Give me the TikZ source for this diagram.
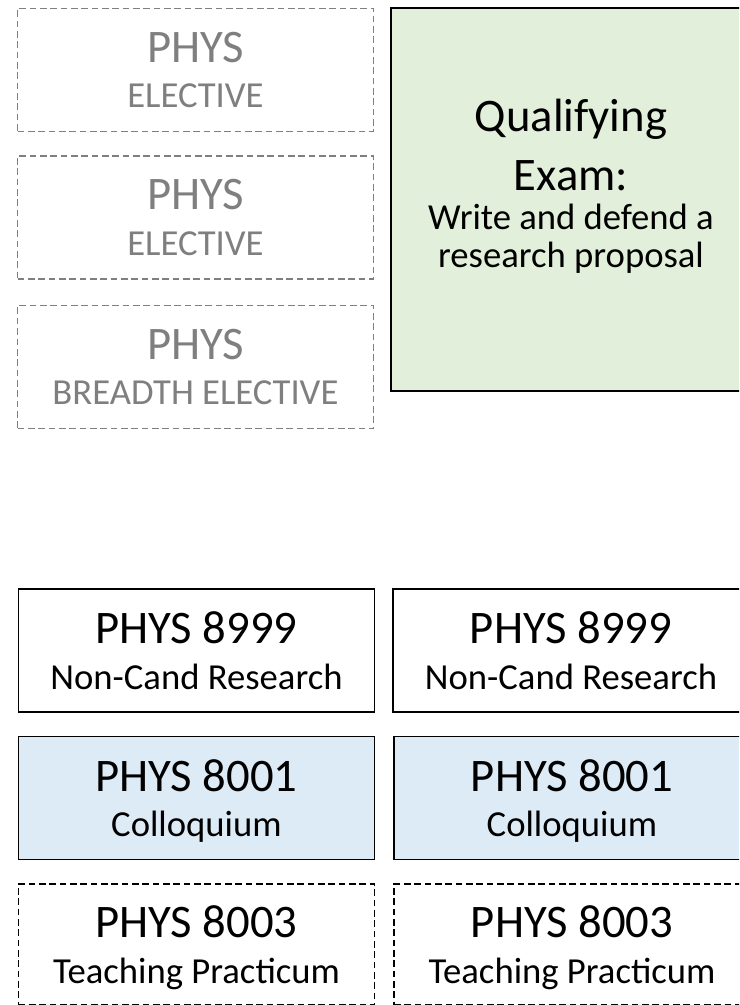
\documentclass[tikz,border=0pt]{standalone}
\usepackage{fontspec}
\setmainfont{Carlito}
\usetikzlibrary{positioning}
\definecolor{7f7f7f}{HTML}{7F7F7F}
\definecolor{e2efda}{HTML}{E2EFDA}
\definecolor{ddebf7}{HTML}{DDEBF7}
\newcommand*{\bigtxt}{\fontsize{35}{34}\selectfont}
\newcommand*{\smalltxt}{\fontsize{27.5}{34}\selectfont}
\begin{document}
\begin{tikzpicture}[x=.75pt,y=-.75pt,
    box/.style={rectangle,minimum width=267pt,minimum height=92.25pt,inner sep=0,align=center,text depth=0pt,font=\smalltxt},
    elective/.style={box,draw=7f7f7f,text=7f7f7f,dash pattern=on 5pt off 2.75pt,line width=1pt},
    research/.style={box,draw=black,line width=1.2pt},
    colloq/.style={research,fill=ddebf7},
    practicum/.style={box,draw=black,dash pattern=on 5pt off 2.75pt,line width=1pt,minimum height=90.75pt},
    exam/.style={rectangle,draw=black,fill=e2efda,line width=1.2pt,minimum width=270pt,minimum height=287.25pt,inner sep=0}]
    \useasboundingbox(0,0)rectangle(739,1005);
    \clip(0,0)rectangle(739,1005);
    \node[elective](E1)at(195.5,70){{\bigtxt PHYS}\\ELECTIVE};
    \node[elective](E2)at(195.5,217.5){{\bigtxt PHYS}\\ELECTIVE};
    \node[elective](E3)at(195.5,367){{\bigtxt PHYS}\\BREADTH ELECTIVE};
    \node[exam](Q)at(571,199.5){};
    \node[inner sep=0,align=center,font={\fontsize{27.5}{28.5}\selectfont\lineskiplimit=-100pt},below=69pt of Q.north](QT){{\bigtxt Qualifying}\\[15.75pt]{\bigtxt Exam:}\\[.75pt]Write and defend a\\research proposal};
    \node[research](R1)at(196.5,650.5){{\bigtxt PHYS 8999}\\Non-Cand Research};
    \node[research](R2)at(571,650.5){{\bigtxt PHYS 8999}\\Non-Cand Research};
    \node[colloq](C1)at(196.5,798){{\bigtxt PHYS 8001}\\Colloquium};
    \node[colloq](C2)at(572,798){{\bigtxt PHYS 8001}\\Colloquium};
    \node[practicum](T1)at(196.5,944.5){{\bigtxt PHYS 8003}\\Teaching Practicum};
    \node[practicum](T2)at(572,944.5){{\bigtxt PHYS 8003}\\Teaching Practicum};
\end{tikzpicture}
\end{document}
